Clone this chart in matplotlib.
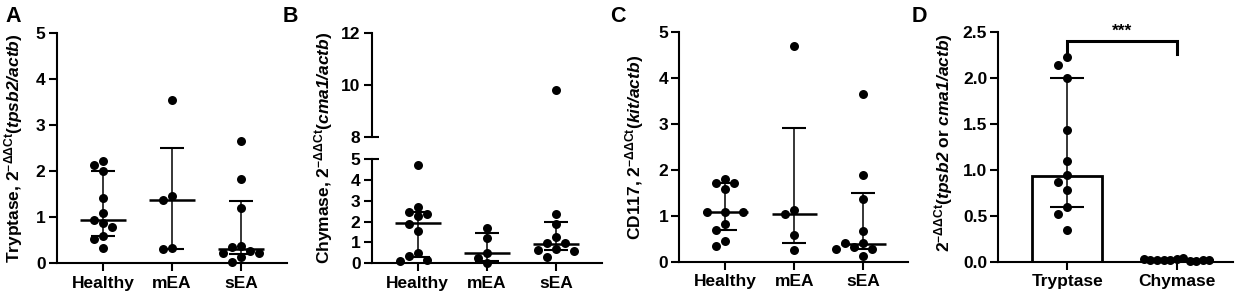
"""
plot.py
-------
Mast cell marker expression (tryptase, chymase, CD117) in healthy, mEA and sEA,
four panels A-D in GraphPad style.
"""

import numpy as np
import matplotlib
matplotlib.use("Agg")
import matplotlib.pyplot as plt
from matplotlib import transforms
from matplotlib.ticker import FormatStrFormatter

plt.rcParams.update({
    "font.family": "Liberation Sans",
    "font.weight": "bold",
    "font.size": 12.5,
    "axes.linewidth": 1.5,
    "xtick.major.width": 1.5,
    "ytick.major.width": 1.5,
    "xtick.major.size": 6,
    "ytick.major.size": 6,
    "mathtext.fontset": "custom",
    "mathtext.rm": "Liberation Sans:italic:bold",
    "mathtext.it": "Liberation Sans:italic:bold",
    "mathtext.bf": "Liberation Sans:bold",
    "mathtext.sf": "Liberation Sans",
})

W, H = 1247, 299

# ── data ──────────────────────────────────────────────────────────
GROUPS = ["Healthy", "mEA", "sEA"]

# A: tryptase
tps_healthy = [2.22, 2.14, 2.00, 1.43, 1.09, 0.94, 0.87, 0.78, 0.59, 0.52, 0.34]
tps_mea     = [3.54, 1.46, 1.38, 0.33, 0.31]
tps_sea     = [2.66, 1.83, 1.21, 0.38, 0.35, 0.27, 0.22, 0.22, 0.14, 0.03]
tps_median  = [0.94, 1.38, 0.31]
tps_q1      = [0.59, 0.31, 0.20]
tps_q3      = [2.00, 2.50, 1.36]

# B: chymase (broken axis)
cma_healthy = [4.71, 2.71, 2.47, 2.36, 2.27, 1.88, 1.56, 0.51, 0.35, 0.16, 0.13]
cma_mea     = [1.71, 1.20, 0.51, 0.24, 0.03]
cma_sea     = [9.80, 2.35, 1.87, 1.28, 0.96, 0.96, 0.67, 0.64, 0.60, 0.32]
cma_median  = [1.92, 0.48, 0.94]
cma_q1      = [0.32, 0.13, 0.63]
cma_q3      = [2.47, 1.47, 1.97]

# C: CD117
kit_healthy = [1.80, 1.72, 1.72, 1.57, 1.09, 1.09, 1.09, 0.83, 0.70, 0.46, 0.34]
kit_mea     = [4.68, 1.12, 1.03, 0.58, 0.25]
kit_sea     = [3.65, 1.88, 1.36, 0.67, 0.40, 0.40, 0.31, 0.27, 0.27, 0.12]
kit_median  = [1.09, 1.04, 0.39]
kit_q1      = [0.70, 0.41, 0.28]
kit_q3      = [1.72, 2.90, 1.50]

# D: tryptase vs chymase in healthy
D_GROUPS   = ["Tryptase", "Chymase"]
d_tryptase = tps_healthy
d_chymase  = [0.03, 0.02, 0.04, 0.02, 0.01, 0.02, 0.01, 0.02, 0.02, 0.03, 0.02]
d_bar      = [0.93, 0.02]
d_q1       = [0.60, 0.01]
d_q3       = [2.00, 0.03]
sig_text   = "***"
sig_low, sig_high = 2.26, 2.40


def px_box(left, top, right, bottom):
    """Axes rect in figure fraction from pixel edges (origin top-left)."""
    return [left / W, 1 - bottom / H, (right - left) / W, (bottom - top) / H]


def style_axes(ax, xlim, ylim, yticks):
    ax.spines[["top", "right"]].set_visible(False)
    ax.set_xlim(xlim)
    ax.set_ylim(ylim)
    ax.set_yticks(yticks)
    ax.tick_params(axis="both", labelsize=12.5, pad=2)
    ax.tick_params(axis="x", pad=3)


def swarm_x(ax, center, values, step, diam):
    """Simple beeswarm: nearest free slot to the centre, in pixel space."""
    trans = ax.transData
    sx = trans.transform((step, 0))[0] - trans.transform((0, 0))[0]
    slots = [0]
    for k in range(1, 9):
        slots += [-k, k]
    placed, xs = [], []
    for v in values:
        y = trans.transform((0, v))[1]
        for k in slots:
            if all(np.hypot(k * sx - px, y - py) >= diam for px, py in placed):
                break
        placed.append((k * sx, y))
        xs.append(center + k * step)
    return xs


def draw_dots(ax, center, values, step=0.13, diam=9.0, size=42):
    xs = swarm_x(ax, center, values, step, diam)
    ax.scatter(xs, values, s=size, color="black", linewidths=0,
               zorder=5, clip_on=False)


def draw_median_iqr(ax, med, lo, hi, half=0.33, capsize=8.5):
    x = np.arange(len(med))
    med, lo, hi = np.array(med), np.array(lo), np.array(hi)
    ax.errorbar(x, med, yerr=[med - lo, hi - med], fmt="none", ecolor="black",
                elinewidth=1.1, capsize=capsize, capthick=1.5, zorder=3)
    ax.hlines(med, x - half, x + half, color="black", lw=1.8, zorder=3)


def ylabel(x, y, text):
    fig.text(x / W, 1 - y / H, text, rotation=90, ha="center", va="center",
             fontsize=12.5, fontweight="bold")


fig = plt.figure(figsize=(W / 100, H / 100), dpi=100)

# ── A ─────────────────────────────────────────────────────────────
axA = fig.add_axes(px_box(56.7, 33.3, 287, 263.3))
style_axes(axA, (-0.671, 2.667), (0, 5), range(0, 6))
axA.set_xticks(range(3), GROUPS)
for i, vals in enumerate([tps_healthy, tps_mea, tps_sea]):
    draw_dots(axA, i, vals)
draw_median_iqr(axA, tps_median, tps_q1, tps_q3)
ylabel(14, 148, r"Tryptase, 2$^{\mathsf{-ΔΔCt}}$($\mathit{tpsb2/actb}$)")

# ── B (broken y axis) ─────────────────────────────────────────────
axB = fig.add_axes(px_box(371.7, 159, 602, 263.3))
axBt = fig.add_axes(px_box(371.7, 33.3, 602, 137))
style_axes(axB, (-0.667, 2.667), (0, 5), range(0, 6))
style_axes(axBt, (-0.667, 2.667), (8, 12), [8, 10, 12])
axB.set_xticks(range(3), GROUPS)
axBt.spines["bottom"].set_visible(False)
axBt.set_xticks([])
for i, vals in enumerate([cma_healthy, cma_mea, cma_sea]):
    vals = np.array(vals)
    draw_dots(axB, i, vals[vals <= 5])
    if (vals > 5).any():
        draw_dots(axBt, i, vals[vals > 5])
draw_median_iqr(axB, cma_median, cma_q1, cma_q3)
for ax, yb in [(axBt, 8), (axB, 5)]:
    tr = transforms.blended_transform_factory(ax.transAxes, ax.transData)
    ax.plot([0, 0.03], [yb, yb], color="black", lw=1.5, transform=tr,
            clip_on=False, solid_capstyle="butt")
ylabel(324, 148, r"Chymase, 2$^{\mathsf{-ΔΔCt}}$($\mathit{cma1/actb}$)")

# ── C ─────────────────────────────────────────────────────────────
axC = fig.add_axes(px_box(679.3, 31.7, 907.7, 261.7))
style_axes(axC, (-0.667, 2.643), (0, 5), range(0, 6))
axC.set_xticks(range(3), GROUPS)
for i, vals in enumerate([kit_healthy, kit_mea, kit_sea]):
    draw_dots(axC, i, vals)
draw_median_iqr(axC, kit_median, kit_q1, kit_q3)
ylabel(635, 147, r"CD117, 2$^{\mathsf{-ΔΔCt}}$($\mathit{kit/actb}$)")

# ── D ─────────────────────────────────────────────────────────────
axD = fig.add_axes(px_box(998.3, 31.7, 1233, 261.7))
style_axes(axD, (-0.631, 1.515), (0, 2.5), np.arange(0, 2.51, 0.5))
axD.yaxis.set_major_formatter(FormatStrFormatter("%.1f"))
axD.set_xticks(range(2), D_GROUPS)
axD.bar(range(2), d_bar, width=0.64, color="white", edgecolor="black",
        linewidth=2.0, zorder=2)
draw_dots(axD, 0, d_tryptase, step=0.082, diam=9.5)
draw_dots(axD, 1, d_chymase, step=0.06, diam=6.5)
xd = np.arange(2)
axD.errorbar(xd, d_bar, yerr=[np.array(d_bar) - d_q1, np.array(d_q3) - d_bar],
             fmt="none", ecolor="black", elinewidth=1.1, capsize=12.5,
             capthick=1.5, zorder=3)
axD.plot([0, 0, 1, 1], [sig_low, sig_high, sig_high, sig_low], color="black",
         lw=2.2, clip_on=False, solid_joinstyle="miter")
axD.text(0.5, sig_high + 0.02, sig_text, ha="center", va="bottom",
         fontsize=12.5, fontweight="bold")
ylabel(944, 143, r"2$^{\mathsf{-ΔΔCt}}$($\mathit{tpsb2}$ or $\mathit{cma1/actb}$)")

# panel letters
for x, letter in [(5, "A"), (283, "B"), (610, "C"), (912, "D")]:
    fig.text(x / W, 1 - 6 / H, letter, ha="left", va="top",
             fontsize=15.5, fontweight="bold")

fig.savefig("out.png", dpi=100)
plt.close(fig)
